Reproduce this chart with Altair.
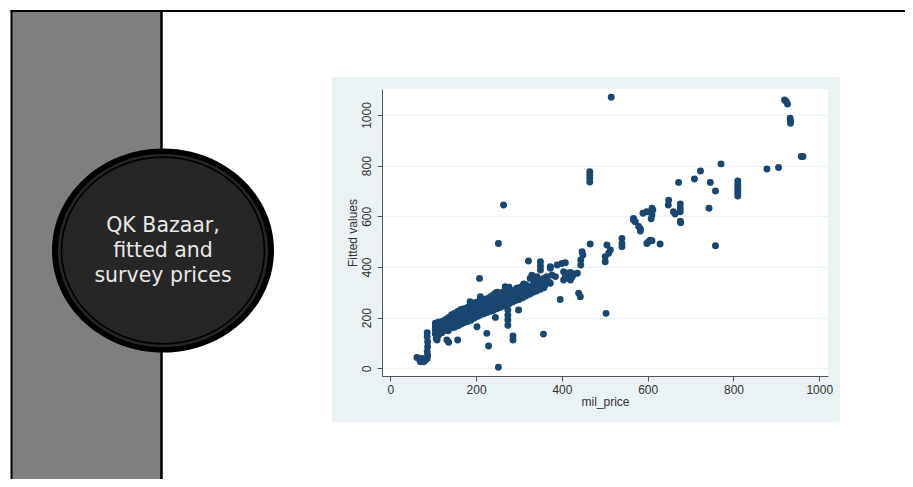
import altair as alt
import pandas as pd

# ---------------- scatter data ----------------
# isolated / sparse points (mil_price, fitted value)
sparse_price = [515, 919, 923, 926, 932, 933, 933, 958, 962, 878, 905, 771, 723, 709, 746, 758, 672, 743, 758,
                810, 810, 810, 810, 810, 810,
                649, 648, 676, 676, 676, 660, 664, 676, 677,
                610, 612, 610, 608, 598, 589,
                567, 567, 571, 579, 583, 583,
                598, 602, 606, 610, 629,
                540, 540, 540,
                505, 513, 509, 501, 501,
                503, 466,
                465, 465, 465, 465,
                447, 449, 444, 444,
                439, 443, 396, 385,
                404, 412, 420, 428, 436, 408, 416, 424, 404, 420,
                373, 389, 400, 408, 373,
                373, 377,
                264, 252, 208, 322, 350, 350, 350,
                252, 229, 225, 202, 286, 286, 357,
                157, 136, 132, 109, 107,
                86, 86, 87, 87, 86, 87,
                62, 66, 74, 70, 78, 82, 86,
                274, 274, 274, 274, 245, 299,
                268, 268, 268, 268,
                186, 210, 245, 249, 295, 311, 334, 342, 350, 350, 303,
                326, 330, 338, 342, 357, 365, 369, 361, 350]
sparse_fitted = [1070, 1059, 1053, 1043, 987, 976, 967, 836, 836, 787, 793, 807, 779, 747, 734, 700, 734, 632, 484,
                 740, 728, 716, 704, 692, 680,
                 664, 645, 649, 632, 618, 618, 609, 581, 575,
                 632, 625, 605, 590, 618, 612,
                 592, 585, 579, 560, 550, 542,
                 493, 500, 506, 504, 491,
                 513, 493, 480,
                 487, 467, 454, 441, 421,
                 217, 491,
                 776, 763, 750, 735,
                 460, 447, 428, 408,
                 296, 283, 272, 362,
                 381, 375, 378, 372, 375, 362, 356, 360, 349, 349,
                 401, 408, 414, 417, 395,
                 336, 368,
                 645, 493, 355, 424, 421, 404, 388,
                 4, 88, 138, 164, 128, 112, 135,
                 112, 103, 112, 112, 118,
                 141, 125, 105, 85, 66, 52,
                 43, 39, 39, 26, 26, 33, 39,
                 230, 210, 191, 170, 201, 230,
                 322, 300, 285, 270,
                 263, 283, 296, 300, 316, 333, 349, 355, 335, 320, 283,
                 355, 368, 349, 362, 355, 362, 342, 329, 336]

# dense band of points: one mil_price value with the fitted values stacked above it
band_price = [105, 112, 120, 128, 135, 143, 150, 158, 165, 172, 180, 188, 195, 203, 210, 218, 225,
              233, 240, 248, 255, 262, 270, 277, 285, 292, 300, 308, 316, 325, 333, 341, 350, 358]
band_fitted = [
    [135, 150, 165, 178], [130, 145, 160, 172, 182], [140, 155, 170, 185], [150, 163, 178, 192],
    [148, 160, 175, 190, 200], [160, 172, 187, 200, 212], [162, 178, 192, 205, 218],
    [168, 185, 198, 212, 225], [175, 190, 205, 218, 232], [180, 195, 210, 222, 235],
    [185, 198, 212, 228, 240], [190, 205, 220, 235, 250], [198, 212, 226, 240, 258],
    [205, 218, 232, 245, 262], [210, 222, 238, 252, 268], [215, 228, 242, 258, 272],
    [220, 235, 248, 262, 275], [225, 240, 255, 268, 282], [228, 243, 258, 272, 290],
    [235, 250, 262, 278, 292], [240, 255, 270, 285], [245, 260, 275, 290, 300],
    [250, 265, 280, 298, 315], [255, 270, 288, 305, 320], [262, 278, 292, 305],
    [268, 282, 296, 310], [272, 288, 302, 318], [278, 292, 308, 325], [285, 300, 315, 330],
    [292, 308, 322], [300, 315, 330], [305, 320, 338], [312, 328, 345], [318, 335, 352]]

x_ticks = [0, 200, 400, 600, 800, 1000]
y_ticks = [0, 200, 400, 600, 800, 1000]

rows = [{"mil_price": p, "fitted": f} for p, f in zip(sparse_price, sparse_fitted)]
for p, fs in zip(band_price, band_fitted):
    rows += [{"mil_price": p, "fitted": f} for f in fs]
df = pd.DataFrame(rows)

FONT = "Liberation Sans"
TXT = "#333333"
AX = "#555555"
BOX = "#eaf2f3"
NAVY = "#1a476f"

scatter = alt.Chart(df).mark_circle(size=48, color=NAVY, opacity=1).encode(
    x=alt.X("mil_price:Q",
            scale=alt.Scale(domain=[-19.35, 1020.3], nice=False, zero=False),
            axis=alt.Axis(values=x_ticks, format="d", title="mil_price", grid=False, tickSize=5,
                          labelFont=FONT, titleFont=FONT, labelFontSize=12, titleFontSize=12,
                          labelColor=TXT, titleColor=TXT, titleFontWeight="normal",
                          domainColor=AX, tickColor=AX, labelPadding=3, titlePadding=1,
                          labelFlush=False)),
    y=alt.Y("fitted:Q",
            scale=alt.Scale(domain=[-30.3, 1102.6], nice=False, zero=False),
            axis=alt.Axis(values=y_ticks, format="d", title="Fitted values", grid=True, gridColor=BOX,
                          gridWidth=1, tickSize=5, labelAngle=270, labelAlign="center",
                          labelBaseline="alphabetic",
                          labelFont=FONT, titleFont=FONT, labelFontSize=12, titleFontSize=12,
                          labelColor=TXT, titleColor=TXT, titleFontWeight="normal",
                          domainColor=AX, tickColor=AX, labelPadding=7, titlePadding=1,
                          labelFlush=False)),
)

one = alt.Data(values=[{}])

# canvas (page 8..905 x 8..479) measured from the plot origin at page (382, 89)
L, R, T, B = -374, 523, -81, 390


def rect(x, x2, y, y2, color):
    return alt.Chart(one).mark_rect(color=color, opacity=1).encode(
        x=alt.value(x), x2=alt.value(x2), y=alt.value(y), y2=alt.value(y2))


def hrule(x, x2, y, w):
    return alt.Chart(one).mark_rule(color="black", strokeWidth=w).encode(
        x=alt.value(x), x2=alt.value(x2), y=alt.value(y))


def vrule(x, y, y2, w):
    return alt.Chart(one).mark_rule(color="black", strokeWidth=w).encode(
        x=alt.value(x), y=alt.value(y), y2=alt.value(y2))


ELLIPSE = ("M1,0 C1,0.508 0.5523,0.92 0,0.92 C-0.5523,0.92 -1,0.508 -1,0 "
           "C-1,-0.508 -0.5523,-0.92 0,-0.92 C0.5523,-0.92 1,-0.508 1,0 Z")


def ellipse(size, filled, color, sw=0):
    if filled:
        m = alt.Chart(one).mark_point(shape=ELLIPSE, filled=True, fill=color, strokeWidth=0,
                                      opacity=1, size=size)
    else:
        m = alt.Chart(one).mark_point(shape=ELLIPSE, filled=False, stroke=color, strokeWidth=sw,
                                      opacity=1, size=size)
    return m.encode(x=alt.value(-219), y=alt.value(161.5))


title_text = "QK Bazaar,\nfitted and\nsurvey prices"
title_layer = alt.Chart(one).mark_text(
    font="DejaVu Sans", fontSize=20.5, color="#e8e8e8", align="center", baseline="alphabetic",
    lineBreak="\n", lineHeight=25).encode(
    x=alt.value(-219), y=alt.value(143), text=alt.value(title_text))

decor = [
    rect(L, -50, T, B, "white"),
    rect(458, R, T, B, "white"),
    rect(-50, 458, T, -12, "white"),
    rect(-50, 458, 333, B, "white"),
    rect(-371, -221, -78, B, "#7f7f7f"),
    hrule(-371.5, R, -78, 2),
    vrule(-370.5, -79, B, 2),
    vrule(-220.5, -78, B, 2.5),
    ellipse(49284, True, "black"),
    ellipse(44100, True, "#262626"),
    ellipse(41209, False, "black", 1.6),
]

chart = alt.layer(*decor, scatter, title_layer).properties(
    width=446, height=287,
    autosize=alt.AutoSizeParams(type="none"),
    padding={"left": 374, "top": 81, "right": 77, "bottom": 103},
    background=BOX,
).configure_view(fill="white", strokeWidth=0)

chart.save("out.html", embed_options={"renderer": "svg", "actions": False})
